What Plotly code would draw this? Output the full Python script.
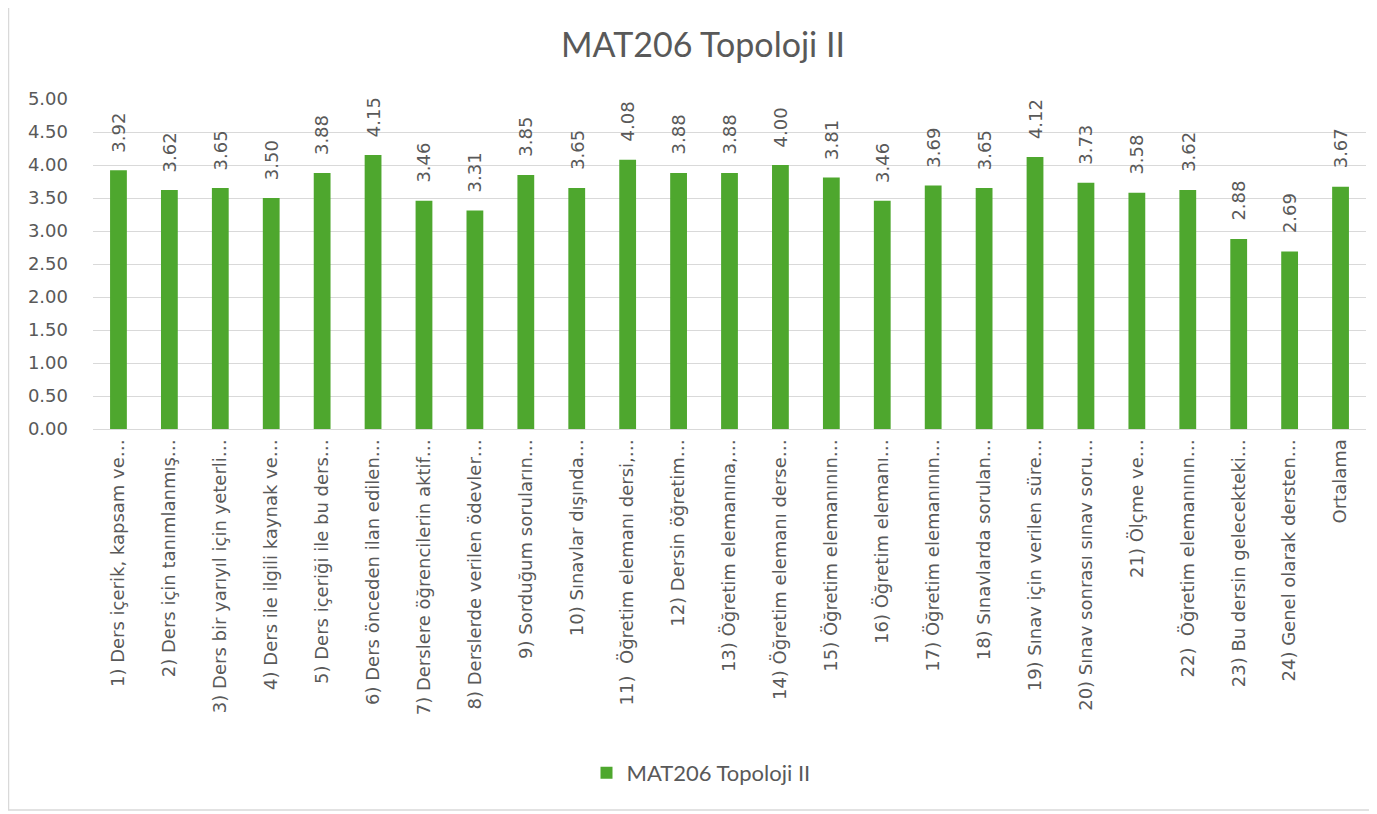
import plotly.graph_objects as go

categories = [
    "1) Ders içerik, kapsam ve…",
    "2) Ders için tanımlanmış…",
    "3) Ders bir yarıyıl için yeterli…",
    "4) Ders ile ilgili kaynak ve…",
    "5) Ders içeriği ile bu ders…",
    "6) Ders önceden ilan edilen…",
    "7) Derslere öğrencilerin aktif…",
    "8) Derslerde verilen ödevler…",
    "9) Sorduğum soruların…",
    "10) Sınavlar dışında…",
    "11)  Öğretim elemanı dersi,…",
    "12) Dersin öğretim…",
    "13) Öğretim elemanına,…",
    "14) Öğretim elemanı derse…",
    "15) Öğretim elemanının…",
    "16) Öğretim elemanı…",
    "17) Öğretim elemanının…",
    "18) Sınavlarda sorulan…",
    "19) Sınav için verilen süre…",
    "20) Sınav sonrası sınav soru…",
    "21) Ölçme ve…",
    "22)  Öğretim elemanının…",
    "23) Bu dersin gelecekteki…",
    "24) Genel olarak dersten…",
    "Ortalama",
]
values = [3.92, 3.62, 3.65, 3.50, 3.88, 4.15, 3.46, 3.31, 3.85, 3.65,
          4.08, 3.88, 3.88, 4.00, 3.81, 3.46, 3.69, 3.65, 4.12, 3.73,
          3.58, 3.62, 2.88, 2.69, 3.67]
series_name = "MAT206 Topoloji II"
y_ticks = [0, 0.5, 1.0, 1.5, 2.0, 2.5, 3.0, 3.5, 4.0, 4.5, 5.0]

GREEN = "#4EA72E"
GREY = "#595959"
TICK_FONT = "DejaVu Sans, Liberation Sans, Arial"
UI_FONT = "Lato, Open Sans, sans-serif"

# page offset caused by default body margin
OFF = 8
W, H = 1377 - OFF, 814 - OFF
# plot area in reference page pixels
P_LEFT, P_RIGHT, P_TOP, P_BOTTOM = 93, 1366, 99, 429
L = P_LEFT - OFF
T = P_TOP - OFF
R = W - (P_RIGHT - OFF)
B = H - (P_BOTTOM - OFF)
pw = W - L - R
ph = H - T - B


def px2x(px):
    return (px - P_LEFT) / pw


def py2y(py):
    return (P_BOTTOM - py) / ph


fig = go.Figure()
fig.add_trace(go.Bar(
    x=categories,
    y=values,
    name=series_name,
    marker=dict(color=GREEN, line=dict(width=0)),
    width=0.33,
    showlegend=True,
))

annotations = [
    dict(
        x=c, y=v, xref="x", yref="y",
        text=f"{v:.2f}",
        textangle=-90,
        showarrow=False,
        xanchor="center", yanchor="bottom",
        yshift=16,
        font=dict(family=TICK_FONT, size=18, color=GREY),
    )
    for c, v in zip(categories, values)
]

fig.update_layout(
    width=W, height=H,
    margin=dict(l=L, r=R, t=T, b=B, pad=0, autoexpand=False),
    paper_bgcolor="white",
    plot_bgcolor="white",
    title=dict(
        text=series_name,
        x=px2x(703), xref="paper", xanchor="center",
        y=1 - (45.5 - OFF) / H, yref="container", yanchor="middle",
        font=dict(family=UI_FONT, size=34, color=GREY),
    ),
    xaxis=dict(
        type="category",
        tickangle=-90,
        tickfont=dict(family=TICK_FONT, size=18, color=GREY),
        showgrid=False,
        showline=True,
        linecolor="#d9d9d9",
        linewidth=1,
        ticks="",
        ticklabelstandoff=2,
        automargin=False,
    ),
    yaxis=dict(
        range=[0, 5],
        tickvals=y_ticks,
        tickformat=".2f",
        tickfont=dict(family=TICK_FONT, size=18, color=GREY),
        showgrid=True,
        gridcolor="#d9d9d9",
        gridwidth=1,
        zeroline=False,
        showline=False,
        ticks="",
        ticklabelstandoff=24,
        automargin=False,
    ),
    legend=dict(
        orientation="h",
        x=px2x(701), xanchor="center",
        y=py2y(773), yanchor="middle",
        font=dict(family=UI_FONT, size=22, color=GREY),
        itemwidth=30,
    ),
    annotations=annotations,
    shapes=[dict(
        type="rect", xref="paper", yref="paper",
        x0=px2x(8.5), x1=px2x(1370), y0=py2y(810), y1=py2y(2),
        line=dict(color="#d9d9d9", width=1.5),
        fillcolor="rgba(0,0,0,0)",
        layer="below",
    )],
)

fig.write_html("out.html")
